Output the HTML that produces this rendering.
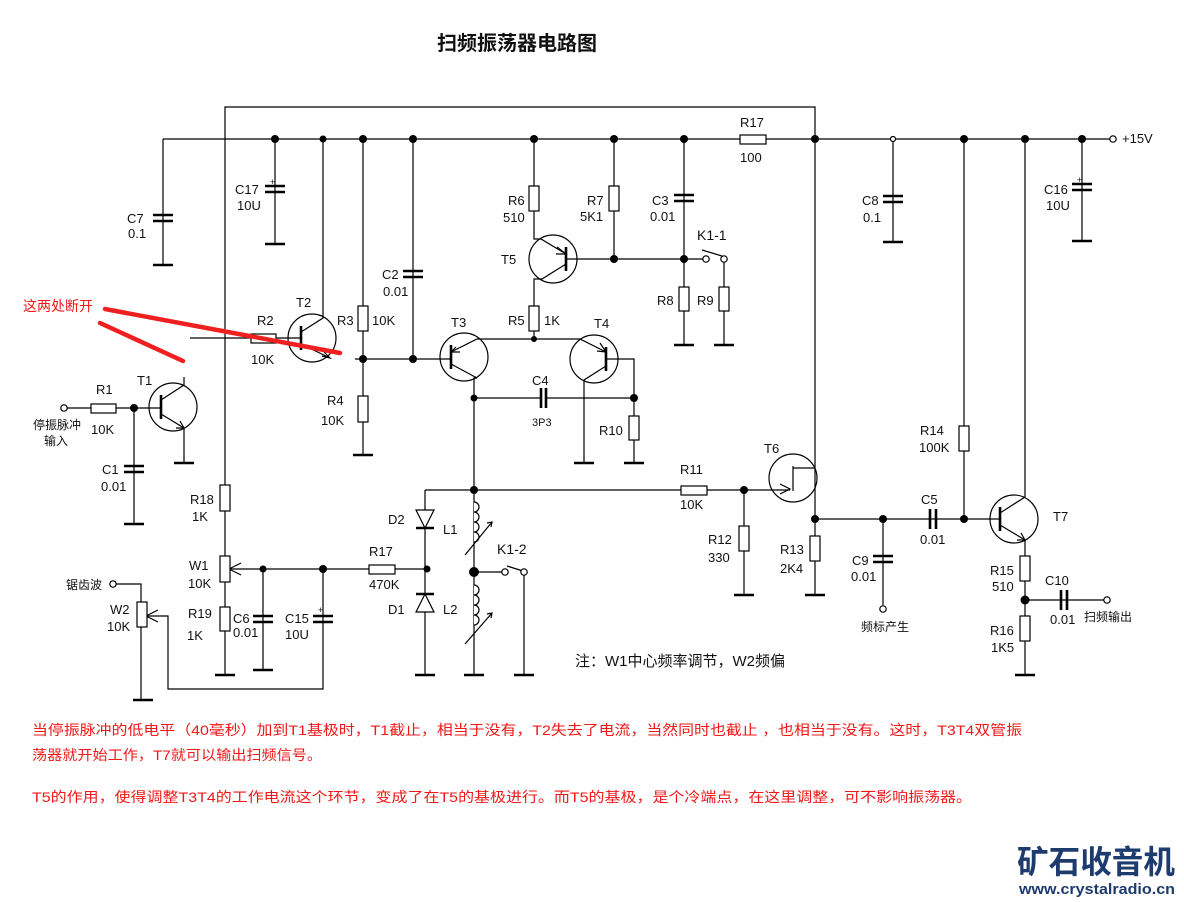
<!DOCTYPE html>
<html><head><meta charset="utf-8"><style>
html,body{margin:0;padding:0;background:#fff;}
svg{display:block;}
text{font-family:"Liberation Sans","Noto Sans CJK SC",sans-serif;font-size:13px;fill:#111;}
.r{fill:#fff;stroke:#000;stroke-width:1.2;}
.w{fill:none;stroke:#000;stroke-width:1.2;}
.g{stroke:#000;stroke-width:2.6;}
.p{stroke:#000;stroke-width:2.6;}
.red{fill:#f01818;font-size:14px;}
</style></head><body>
<svg width="1184" height="902" viewBox="0 0 1184 902" xmlns="http://www.w3.org/2000/svg">
<rect width="1184" height="902" fill="#fff"/>
<text x="437" y="50" style="font-size:20px;font-weight:bold">扫频振荡器电路图</text>

<g class="w">
<!-- top loop & rail -->
<path d="M225,556 V107 H815 V519"/>
<path d="M163,139 H1110"/>
<path d="M225,582 V675"/>
<!-- C7, C17, C8, C16 -->
<path d="M163,139 V265 M275,139 V244 M893,139 V242 M1082,139 V241"/>
<!-- C3, C2 -->
<path d="M684,139 V345 M413,139 V359"/>
<!-- R6/T5/R5 -->
<path d="M534,139 V239 H541 L566,254 M566,264 L542,279 H534 V339"/>
<path d="M566,259 H706 M614,139 V259 M724,262 V345"/>
<path d="M702,250 L722,256"/>
<!-- T2 -->
<path d="M190,338 H301 M301,332 L323,318 V139 M301,344 L330,358"/>
<!-- R3/R4 -->
<path d="M363,139 V455 M355,359 H451"/>
<!-- T3 -->
<path d="M451,352 L477,339 H580 L606,352 M451,364 L477,378 H474 V675 M606,366 L584,380 V463"/>
<path d="M606,359 H634 V463 M474,398 H541 M546,398 H634"/>
<!-- bottom osc -->
<path d="M425,490 H790 M425,490 V675"/>
<path d="M474,572 H502 M524,575 V675 M507,566 L526,572"/>
<path d="M744,490 V595 M815,519 V595 M815,519 H1000 M883,519 V605"/>
<path d="M793,468 H815 M793,466 V491"/>
<path d="M964,139 V519"/>
<!-- T7 -->
<path d="M1000,513 L1025,497 V139 M1000,525 L1025,540 V675 M1025,600 H1104"/>
<!-- T1 -->
<path d="M67,408 H161 M134,408 V524 M161,400 L184,385 V377 M161,414 L184,428 V463"/>
<!-- W1 section -->
<path d="M229,569 H427 M263,569 V670 M323,569 V689 H168 V616 H146"/>
<path d="M116,584 H141 V700"/>
<path d="M229,569 L241,563 M229,569 L241,575 M146,616 L158,610 M146,616 L158,622"/>
<path d="M474,572 V572"/>
</g>
<!-- T2 line extended to mark break -->
<!-- grounds -->
<g class="g">
<path d="M153,265 H173 M265,244 H285 M883,242 H903 M1072,241 H1092 M674,345 H694 M714,345 H734 M353,455 H373 M574,463 H594 M624,463 H644 M174,463 H194 M124,524 H144 M215,675 H235 M253,670 H273 M415,675 H435 M464,675 H484 M514,675 H534 M734,595 H754 M805,595 H825 M1015,675 H1035 M133,700 H153"/>
</g>
<!-- capacitor plates -->
<g class="p">
<path d="M153,215 H173 M153,221 H173 M265,186 H285 M265,192 H285 M883,196 H903 M883,202 H903 M1072,184 H1092 M1072,190 H1092"/>
<path d="M674,195 H694 M674,201 H694 M403,271 H423 M403,277 H423"/>
<path d="M541,388 V408 M546,388 V408 M930,509 V529 M936,509 V529 M873,556 H893 M873,562 H893 M1061,590 V610 M1067,590 V610 M124,466 H144 M124,472 H144"/>
<path d="M253,616 H273 M253,622 H273 M313,616 H333 M313,622 H333"/>
</g>
<g style="font-size:9px"><text x="270" y="185" style="font-size:9px">+</text><text x="1077" y="183" style="font-size:9px">+</text><text x="318" y="613" style="font-size:9px">+</text></g>
<!-- resistors -->
<g class="r">
<rect x="740" y="135" width="26" height="9"/>
<rect x="529" y="186" width="10" height="25"/><rect x="609" y="186" width="10" height="25"/>
<rect x="679" y="287" width="10" height="24"/><rect x="719" y="287" width="10" height="24"/>
<rect x="529" y="306" width="10" height="25"/>
<rect x="358" y="306" width="10" height="25"/><rect x="358" y="396" width="10" height="26"/>
<rect x="251" y="334" width="25" height="9"/>
<rect x="629" y="416" width="10" height="24"/>
<rect x="91" y="404" width="25" height="9"/>
<rect x="220" y="485" width="10" height="26"/><rect x="220" y="556" width="10" height="26"/><rect x="220" y="607" width="10" height="24"/>
<rect x="137" y="602" width="10" height="25"/>
<rect x="369" y="565" width="26" height="9"/>
<rect x="681" y="486" width="26" height="9"/>
<rect x="739" y="526" width="10" height="25"/><rect x="810" y="536" width="10" height="25"/>
<rect x="959" y="426" width="10" height="25"/>
<rect x="1020" y="556" width="10" height="25"/><rect x="1020" y="616" width="10" height="25"/>
</g>
<!-- transistor circles -->
<g class="w">
<circle cx="553" cy="259" r="24"/><circle cx="312" cy="338" r="24"/><circle cx="464" cy="357" r="24"/>
<circle cx="594" cy="359" r="24"/><circle cx="173" cy="407" r="24"/><circle cx="793" cy="478" r="24"/>
<circle cx="1014" cy="519" r="24"/>
</g>
<g class="p">
<path d="M566,247 V271 M301,326 V350 M451,345 V369 M606,347 V371 M161,395 V419 M1000,507 V531"/>
</g>
<!-- arrows -->
<g class="w">
<path d="M557,247 L566,254 L556,254 M456,347 L451,352 L460,352 M600,343 L606,352 L597,351 M322,356 L330,358 L324,352 M176,428 L184,428 L180,421 M1017,540 L1025,540 L1021,533 M780,484 L790,489 L780,494"/>
</g>
<!-- diodes -->
<g class="w" style="fill:#fff">
<path d="M416,510 H434 L425,528 Z M416,612 H434 L425,594 Z"/>
</g>
<g class="p"><path d="M416,528 H434 M416,594 H434"/></g>
<!-- inductors -->
<g class="w" style="fill:#fff">
<path d="M474,502 a5,5 0 0 1 0,10 a5,5 0 0 1 0,10 a5,5 0 0 1 0,10 a5,5 0 0 1 0,10"/>
<path d="M474,585 a5,5 0 0 1 0,10 a5,5 0 0 1 0,10 a5,5 0 0 1 0,10 a5,5 0 0 1 0,10"/>
<path d="M465,555 L492,522 M487,523 L492,522 L491,527 M465,644 L492,613 M487,614 L492,613 L491,618"/>
</g>
<!-- dots -->
<g fill="#000">
<circle cx="275" cy="139" r="4"/><circle cx="323" cy="139" r="3.5"/><circle cx="363" cy="139" r="4"/><circle cx="413" cy="139" r="4"/>
<circle cx="534" cy="139" r="4"/><circle cx="614" cy="139" r="4"/><circle cx="684" cy="139" r="4"/><circle cx="815" cy="139" r="4"/>
<circle cx="964" cy="139" r="4"/><circle cx="1025" cy="139" r="4"/><circle cx="1082" cy="139" r="4"/>
<circle cx="614" cy="259" r="4"/><circle cx="684" cy="259" r="4"/><circle cx="534" cy="339" r="3"/>
<circle cx="363" cy="359" r="4"/><circle cx="413" cy="359" r="4"/><circle cx="474" cy="398" r="3.5"/><circle cx="634" cy="398" r="4"/>
<circle cx="134" cy="408" r="4"/><circle cx="474" cy="490" r="4"/><circle cx="744" cy="490" r="4"/><circle cx="815" cy="519" r="4"/>
<circle cx="883" cy="519" r="4"/><circle cx="964" cy="519" r="4"/><circle cx="263" cy="569" r="3.5"/><circle cx="323" cy="569" r="4"/>
<circle cx="427" cy="569" r="3.5"/><circle cx="474" cy="572" r="5"/><circle cx="1025" cy="600" r="4.5"/>
</g>
<g class="w" style="fill:#fff">
<circle cx="893" cy="139" r="2.5"/><circle cx="1113" cy="139" r="3.2"/><circle cx="706" cy="259" r="3.2"/><circle cx="724" cy="259" r="3.2"/>
<circle cx="64" cy="408" r="3.2"/><circle cx="113" cy="584" r="3.2"/><circle cx="505" cy="572" r="3.2"/><circle cx="524" cy="572" r="3.2"/>
<circle cx="883" cy="609" r="3.2"/><circle cx="1107" cy="600" r="3.2"/>
</g>

<!-- labels -->
<text x="740" y="127">R17</text><text x="740" y="162">100</text><text x="1122" y="143">+15V</text>
<text x="127" y="223">C7</text><text x="128" y="238">0.1</text>
<text x="235" y="194">C17</text><text x="237" y="210">10U</text>
<text x="382" y="279">C2</text><text x="383" y="296">0.01</text>
<text x="508" y="205">R6</text><text x="503" y="222">510</text>
<text x="587" y="205">R7</text><text x="580" y="221">5K1</text>
<text x="652" y="205">C3</text><text x="650" y="221">0.01</text>
<text x="697" y="240" style="font-size:14px">K1-1</text>
<text x="501" y="264">T5</text><text x="657" y="305">R8</text><text x="697" y="305">R9</text>
<text x="508" y="325">R5</text><text x="544" y="325">1K</text>
<text x="451" y="327">T3</text><text x="594" y="328">T4</text>
<text x="532" y="385">C4</text><text x="532" y="426" style="font-size:11px">3P3</text><text x="599" y="435">R10</text>
<text x="862" y="205">C8</text><text x="863" y="222">0.1</text>
<text x="1044" y="194">C16</text><text x="1046" y="210">10U</text>
<text x="296" y="307">T2</text><text x="257" y="325">R2</text><text x="251" y="364">10K</text>
<text x="337" y="325">R3</text><text x="372" y="325">10K</text>
<text x="327" y="405">R4</text><text x="321" y="425">10K</text>
<text x="137" y="385">T1</text><text x="96" y="394">R1</text><text x="91" y="434">10K</text>
<text x="33" y="429" style="font-size:12px">停振脉冲</text><text x="44" y="445" style="font-size:12px">输入</text>
<text x="102" y="474">C1</text><text x="101" y="491">0.01</text>
<text x="190" y="504">R18</text><text x="192" y="521">1K</text>
<text x="189" y="570">W1</text><text x="188" y="588">10K</text>
<text x="188" y="618">R19</text><text x="187" y="640">1K</text>
<text x="233" y="623">C6</text><text x="233" y="637">0.01</text>
<text x="285" y="623">C15</text><text x="285" y="639">10U</text>
<text x="66" y="589" style="font-size:12px">锯齿波</text>
<text x="110" y="614">W2</text><text x="107" y="631">10K</text>
<text x="388" y="524">D2</text><text x="443" y="534">L1</text>
<text x="369" y="556">R17</text><text x="369" y="589">470K</text>
<text x="497" y="554" style="font-size:14px">K1-2</text>
<text x="388" y="614">D1</text><text x="443" y="614">L2</text>
<text x="680" y="474">R11</text><text x="680" y="509">10K</text>
<text x="764" y="453">T6</text>
<text x="708" y="544">R12</text><text x="708" y="562">330</text>
<text x="780" y="554">R13</text><text x="780" y="573">2K4</text>
<text x="852" y="565">C9</text><text x="851" y="581">0.01</text>
<text x="861" y="631" style="font-size:12px">频标产生</text>
<text x="921" y="504">C5</text><text x="920" y="544">0.01</text>
<text x="920" y="435">R14</text><text x="919" y="452">100K</text>
<text x="1053" y="521">T7</text>
<text x="990" y="575">R15</text><text x="992" y="591">510</text>
<text x="1045" y="585">C10</text><text x="1050" y="624">0.01</text>
<text x="1084" y="621" style="font-size:12px">扫频输出</text>
<text x="990" y="635">R16</text><text x="991" y="652">1K5</text>
<text x="575" y="666" style="font-size:15px">注：W1中心频率调节，W2频偏</text>

<!-- red annotation -->
<text x="23" y="311" class="red" style="font-size:14px">这两处断开</text>
<path d="M105,309 L340,353 M100,323 L183,361" stroke="#f02020" stroke-width="4.5" stroke-linecap="round"/>

<text x="32" y="735" class="red" textLength="990" lengthAdjust="spacingAndGlyphs">当停振脉冲的低电平（40毫秒）加到T1基极时，T1截止，相当于没有，T2失去了电流，当然同时也截止 ，也相当于没有。这时，T3T4双管振</text>
<text x="32" y="760" class="red" textLength="290" lengthAdjust="spacingAndGlyphs">荡器就开始工作，T7就可以输出扫频信号。</text>
<text x="32" y="802" class="red" textLength="940" lengthAdjust="spacingAndGlyphs">T5的作用，使得调整T3T4的工作电流这个环节，变成了在T5的基极进行。而T5的基极，是个冷端点，在这里调整，可不影响振荡器。</text>

<!-- logo -->
<text x="1017" y="873" textLength="158" lengthAdjust="spacingAndGlyphs" style="font-size:32px;font-weight:bold;fill:#1e3b6e">矿石收音机</text>
<text x="1019" y="894" textLength="156" lengthAdjust="spacingAndGlyphs" style="font-size:15px;font-weight:bold;fill:#1e3b6e">www.crystalradio.cn</text>
</svg>
</body></html>
